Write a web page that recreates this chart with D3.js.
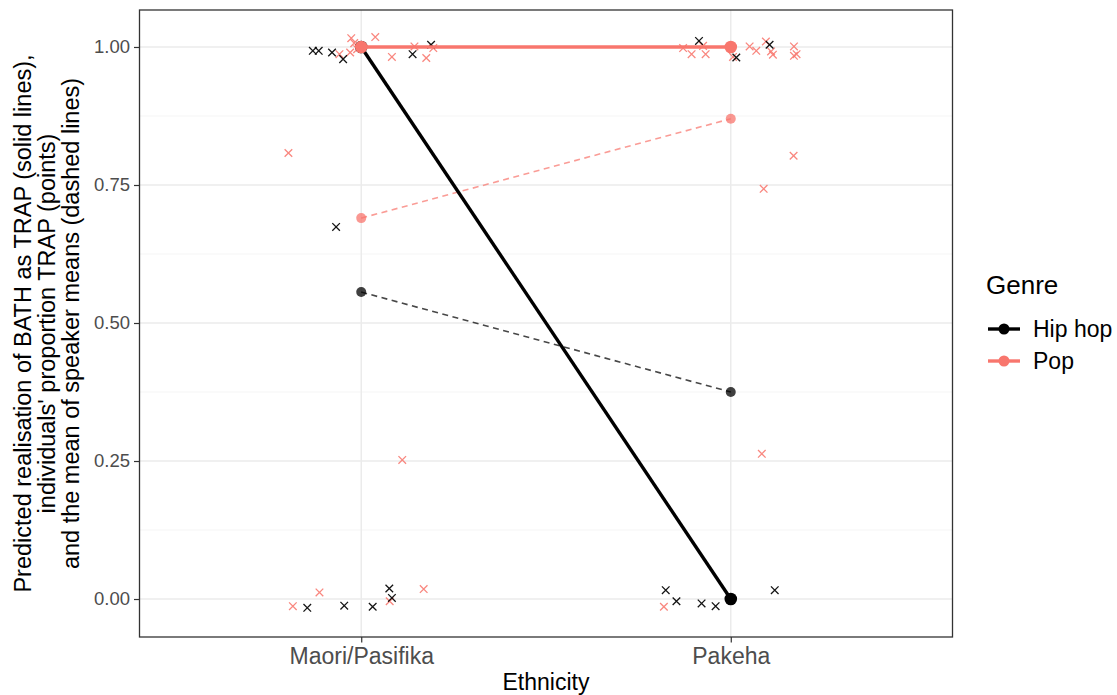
<!DOCTYPE html>
<html><head><meta charset="utf-8">
<script src="https://cdn.jsdelivr.net/npm/d3@7"></script>
<style>body{margin:0;background:#fff}svg{display:block}text{font-family:"Liberation Sans",Arial,Helvetica,sans-serif}</style>
</head><body>
<svg id="chart" width="1117" height="695"></svg>
<script>
// ---- data ----
const categories = ["Maori/Pasifika", "Pakeha"];
const genres = ["Hip hop", "Pop"];
const genreColors = ["#000000", "#F8766D"];
const yTicks = [0, 0.25, 0.5, 0.75, 1];
const yMinorTicks = [0.125, 0.375, 0.625, 0.875];

// model predictions (solid lines)
const predHipHop = [1.0, 0.0];
const predPop = [1.0, 1.0];
// mean of speaker means (dashed lines)
const meanHipHop = [0.556, 0.375];
const meanPop = [0.690, 0.870];

// individual speakers: proportion TRAP (jittered) and horizontal jitter offsets
const maoriHipHopVal = [0.993, 0.993, 0.990, 0.978, 0.987, 1.004, 0.674, -0.016, -0.012, -0.014, 0.019, 0.002];
const maoriHipHopJit = [-0.131, -0.115, -0.079, -0.049, 0.139, 0.189, -0.068, -0.146, -0.046, 0.031, 0.076, 0.083];
const maoriPopVal = [0.987, 0.990, 1.016, 1.007, 0.996, 1.018, 0.982, 1.001, 0.998, 0.980, 0.808, 0.252, -0.013, 0.012, -0.004, 0.018];
const maoriPopJit = [-0.059, -0.030, -0.027, -0.019, -0.011, 0.038, 0.083, 0.144, 0.195, 0.176, -0.197, 0.111, -0.185, -0.113, 0.077, 0.169];
const pakehaHipHopVal = [1.011, 0.981, 1.004, 0.016, -0.004, -0.008, -0.013, 0.016];
const pakehaHipHopJit = [-0.086, 0.015, 0.105, -0.176, -0.147, -0.079, -0.041, 0.119];
const pakehaPopVal = [0.998, 0.987, 1.002, 0.987, 0.982, 1.001, 0.993, 1.010, 0.992, 0.986, 1.001, 0.984, 0.987, 0.743, 0.803, 0.263, -0.014];
const pakehaPopJit = [-0.129, -0.106, -0.075, -0.068, 0.006, 0.051, 0.069, 0.095, 0.109, 0.114, 0.171, 0.171, 0.178, 0.089, 0.170, 0.084, -0.181];

// ---- layout ----
const svg = d3.select("#chart");
const P = {left: 139.5, right: 952.5, top: 10, bottom: 637};
const x = d3.scaleLinear().domain([0.4, 2.6]).range([P.left, P.right]);
const y = d3.scaleLinear().domain([-0.0688, 1.067]).range([P.bottom, P.top]);

// panel background & grid
svg.append("rect").attr("x", P.left).attr("y", P.top).attr("width", P.right - P.left).attr("height", P.bottom - P.top).attr("fill", "#fff");
const grid = svg.append("g");
grid.selectAll(".ymin").data(yMinorTicks).join("line")
  .attr("x1", P.left).attr("x2", P.right).attr("y1", d => y(d)).attr("y2", d => y(d))
  .attr("stroke", "#F2F2F2").attr("stroke-width", 0.8);
grid.selectAll(".ymaj").data(yTicks).join("line")
  .attr("x1", P.left).attr("x2", P.right).attr("y1", d => y(d)).attr("y2", d => y(d))
  .attr("stroke", "#EBEBEB").attr("stroke-width", 1.5);
grid.selectAll(".xmaj").data([1, 2]).join("line")
  .attr("y1", P.top).attr("y2", P.bottom).attr("x1", d => x(d)).attr("x2", d => x(d))
  .attr("stroke", "#EBEBEB").attr("stroke-width", 1.5);

// individual points
function crosses(vals, jit, catIdx, color, opacity) {
  const g = svg.append("g").attr("stroke", color).attr("stroke-opacity", opacity).attr("stroke-width", 1.3).attr("fill", "none");
  const s = 3.8;
  vals.forEach((v, i) => {
    const cx = x(catIdx + 1 + jit[i]), cy = y(v);
    g.append("path").attr("d", `M${cx - s},${cy - s}L${cx + s},${cy + s}M${cx - s},${cy + s}L${cx + s},${cy - s}`);
  });
}
crosses(maoriPopVal, maoriPopJit, 0, genreColors[1], 0.88);
crosses(pakehaPopVal, pakehaPopJit, 1, genreColors[1], 0.88);
crosses(maoriHipHopVal, maoriHipHopJit, 0, genreColors[0], 0.92);
crosses(pakehaHipHopVal, pakehaHipHopJit, 1, genreColors[0], 0.92);

// dashed mean lines + points
const line = d3.line().x((d, i) => x(i + 1)).y(d => y(d));
[[meanHipHop, genreColors[0]], [meanPop, genreColors[1]]].forEach(([m, c]) => {
  svg.append("path").attr("d", line(m)).attr("fill", "none").attr("stroke", c)
    .attr("stroke-opacity", 0.72).attr("stroke-width", 1.6).attr("stroke-dasharray", "6,4.5");
  svg.append("g").selectAll("circle").data(m).join("circle")
    .attr("cx", (d, i) => x(i + 1)).attr("cy", d => y(d)).attr("r", 5)
    .attr("fill", c).attr("fill-opacity", 0.75);
});

// solid prediction lines + points
[[predHipHop, genreColors[0]], [predPop, genreColors[1]]].forEach(([m, c]) => {
  svg.append("path").attr("d", line(m)).attr("fill", "none").attr("stroke", c).attr("stroke-width", 3.4);
  svg.append("g").selectAll("circle").data(m).join("circle")
    .attr("cx", (d, i) => x(i + 1)).attr("cy", d => y(d)).attr("r", 6.3).attr("fill", c);
});

// panel border
svg.append("rect").attr("x", P.left).attr("y", P.top).attr("width", P.right - P.left).attr("height", P.bottom - P.top)
  .attr("fill", "none").attr("stroke", "#333333").attr("stroke-width", 1.3);

// axes
const yAxis = svg.append("g").attr("transform", `translate(${P.left},0)`)
  .call(d3.axisLeft(y).tickValues(yTicks).tickFormat(d3.format(".2f")).tickSize(5.5).tickPadding(4));
yAxis.select(".domain").remove();
yAxis.selectAll("line").attr("stroke", "#333333").attr("stroke-width", 1.2);
yAxis.selectAll("text").attr("fill", "#4D4D4D").style("font-size", "18.5px").style("font-family", '"Liberation Sans",Arial,sans-serif');

const xAxis = svg.append("g").attr("transform", `translate(0,${P.bottom})`)
  .call(d3.axisBottom(x).tickValues([1, 2]).tickFormat(d => categories[d - 1]).tickSize(5.5).tickPadding(5));
xAxis.select(".domain").remove();
xAxis.selectAll("line").attr("stroke", "#333333").attr("stroke-width", 1.2);
xAxis.selectAll("text").attr("fill", "#4D4D4D").style("font-size", "23px").style("font-family", '"Liberation Sans",Arial,sans-serif');

// axis titles
svg.append("text").attr("x", (P.left + P.right) / 2).attr("y", 689.5).attr("text-anchor", "middle")
  .style("font-size", "23px").attr("fill", "#000").text("Ethnicity");
const yTitle = ["Predicted realisation of BATH as TRAP (solid lines),",
  "individuals' proportion TRAP (points)",
  "and the mean of speaker means (dashed lines)"];
const yt = svg.append("text").attr("transform", `translate(0,${(P.top + P.bottom) / 2}) rotate(-90)`)
  .attr("text-anchor", "middle").style("font-size", "23.5px").attr("fill", "#000");
yTitle.forEach((t, i) => yt.append("tspan").attr("x", 0).attr("y", 30.5 + i * 24).text(t));

// legend
const lg = svg.append("g");
lg.append("text").attr("x", 986).attr("y", 294).style("font-size", "26px").text("Genre");
genres.forEach((gname, i) => {
  const cy = 329 + i * 32;
  lg.append("line").attr("x1", 988).attr("x2", 1020).attr("y1", cy).attr("y2", cy)
    .attr("stroke", genreColors[i]).attr("stroke-width", 3.4);
  lg.append("circle").attr("cx", 1004).attr("cy", cy).attr("r", 5.5).attr("fill", genreColors[i]);
  lg.append("text").attr("x", 1033).attr("y", cy + 8).style("font-size", "23px").text(gname);
});
</script>
</body></html>
